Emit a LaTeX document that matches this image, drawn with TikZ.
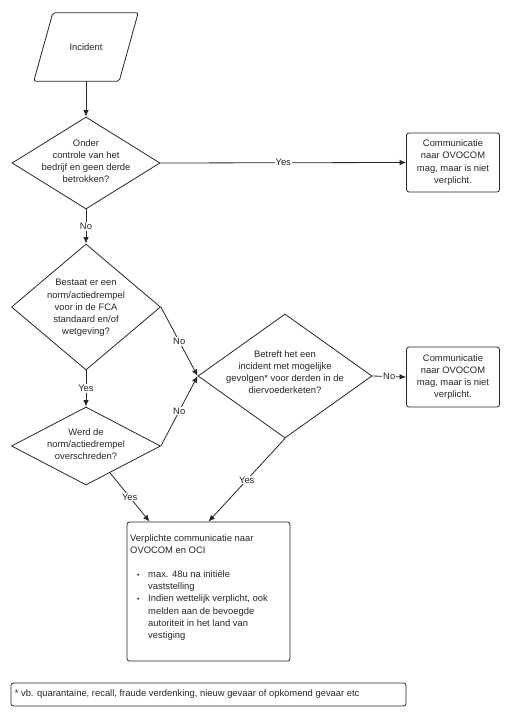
\documentclass[tikz,border=0pt]{standalone}
\usepackage{fontspec}
\setmainfont{Liberation Sans}
\usetikzlibrary{shapes.geometric,arrows.meta,calc}
\begin{document}
\begin{tikzpicture}[x=1pt,y=-1pt,
  line/.style={draw=black!85, line width=0.8pt},
  arr/.style={line, -{Latex[length=6.5pt,width=5.5pt]}},
  dia/.style={diamond, line, inner sep=0pt},
  box/.style={rectangle, line, rounded corners=2.5pt, inner sep=0pt},
  txt/.style={font=\fontsize{9.4}{12.2}\selectfont, text=black!85, align=center, inner sep=0pt},
  lab/.style={txt, fill=white, inner sep=1pt, midway}]
\useasboundingbox (0,0) rectangle (510,719);

% Incident (parallelogram)
\node[txt, minimum width=85pt, minimum height=68pt] (inc) at (86,47) {Incident};
\draw[line, rounded corners=2pt] ($(inc.north west)+(9.5,0)$) -- ($(inc.north east)+(9.5,0)$)
  -- ($(inc.south east)+(-9.5,0)$) -- ($(inc.south west)+(-9.5,0)$) -- cycle;

% Diamonds
\node[dia, minimum width=148pt, minimum height=92pt] (d1) at (86,163) {};
\node[txt] (t1) at (86,161) {Onder\\controle van het\\bedrijf en geen derde\\betrokken?};
\node[dia, minimum width=149pt, minimum height=126pt] (d2) at (86,307) {};
\node[txt] (t2) at (86,308) {Bestaat er een\\norm/actiedrempel\\voor in de FCA\\standaard en/of\\wetgeving?};
\node[dia, minimum width=149pt, minimum height=78pt] (d3) at (86,446) {};
\node[txt] (t3) at (86,444) {Werd de\\norm/actiedrempel\\overschreden?};
\node[dia, minimum width=174pt, minimum height=124pt] (d4) at (285,376) {};
\node[txt] (t4) at (285,372) {Betreft het een\\incident met mogelijke\\gevolgen* voor derden in de\\diervoederketen?};

% Right boxes
\node[box, txt, line, rounded corners=2.5pt, minimum width=93pt, minimum height=59pt] (c1) at (453,162.5) {Communicatie\\naar OVOCOM\\mag, maar is niet\\verplicht.};
\node[box, txt, line, rounded corners=2.5pt, minimum width=93pt, minimum height=60pt] (c2) at (453,377) {Communicatie\\naar OVOCOM\\mag, maar is niet\\verplicht.};

% Bottom box
\node[box, minimum width=163pt, minimum height=139pt] (vc) at (208.5,591.5) {};
\node[txt, align=left, anchor=north west] (vt) at (130,534) {Verplichte communicatie naar\\OVOCOM en OCI\\[12pt]
\makebox[18pt][l]{\hspace{7pt}{\scriptsize\textbullet}}max. 48u na initiële\\
\hspace*{18pt}vaststelling\\
\makebox[18pt][l]{\hspace{7pt}{\scriptsize\textbullet}}Indien wettelijk verplicht, ook\\
\hspace*{18pt}melden aan de bevoegde\\
\hspace*{18pt}autoriteit in het land van\\
\hspace*{18pt}vestiging};

% Footnote
\node[box, minimum width=395pt, minimum height=23pt] (fn) at (208.5,694.5) {};
\node[txt, anchor=west] (ft) at ($(fn.west)+(4,0)$) {* vb. quarantaine, recall, fraude verdenking, nieuw gevaar of opkomend gevaar etc};

% Connectors
\draw[arr] (inc.south) -- (d1.north);
\draw[arr] (d1.east) -- node[lab] (l1) {Yes} (c1.west);
\draw[arr] (d1.south) -- node[lab] (l2) {No} (d2.north);
\draw[arr] (d2.south) -- node[lab] (l3) {Yes} (d3.north);
\draw[arr] (d2.east) -- node[lab] (l4) {No} (d4.west);
\draw[arr] (d3.east) -- node[lab] (l5) {No} (d4.west);
\draw[arr] (d4.east) -- node[lab] (l6) {No} (c2.west);
\draw[arr] ($(d3.south)!0.32!(d3.east)$) -- node[lab] (l7) {Yes} ($(vc.north west)!0.14!(vc.north east)$);
\draw[arr] (d4.south) -- node[lab] (l8) {Yes} (vc.north);
\end{tikzpicture}
\end{document}
